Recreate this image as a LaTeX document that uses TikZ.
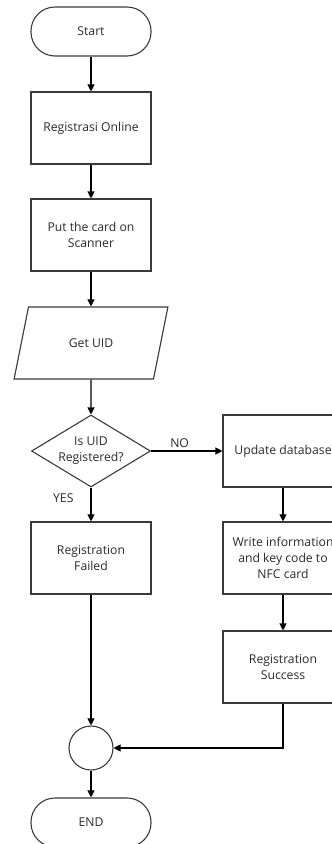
\documentclass[tikz,border=0pt]{standalone}
\usepackage{fontspec}
\setmainfont{Open Sans}
\usetikzlibrary{arrows.meta,shapes.geometric,positioning}
\definecolor{txt}{HTML}{2A2A2A}
\definecolor{ln}{HTML}{3A3A3A}
\begin{document}
\begin{tikzpicture}[x=1pt,y=-1pt,
  font=\fontsize{12.2}{15.8}\selectfont,
  base/.style={draw=ln, line width=1.1pt, text=txt, align=center, inner sep=1pt},
  procbox/.style={base, rectangle, minimum width=120pt, minimum height=72pt},
  termbox/.style={base, rectangle, rounded corners=24pt, minimum width=120pt, minimum height=49pt},
  iobox/.style={base, trapezium, trapezium left angle=64, trapezium right angle=116, trapezium stretches=true, minimum width=154pt, minimum height=72pt},
  decbox/.style={base, diamond, minimum width=119pt, minimum height=72pt, inner sep=0pt},
  joinbox/.style={base, circle, minimum size=44pt, inner sep=0pt},
  conn/.style={draw=black, line width=1.1pt, -{Triangle[length=7pt,width=7pt]}},
  lbl/.style={text=txt, inner sep=1pt, align=center}]
\useasboundingbox (0,0) rectangle (332,844);
\clip (0,0) rectangle (332,844);
\node[termbox] (start) at (91,31.5) {Start};
\node[procbox] (reg) at (91,128) {Registrasi Online};
\node[procbox] (put) at (91,235) {Put the card on\\Scanner};
\node[iobox] (uid) at (91,343) {Get UID};
\node[decbox] (dec) at (91,451) {};
\node[lbl] (dectext) at (dec.center) {Is UID\\Registered?};
\node[procbox] (upd) at (283,451) {Update database};
\node[procbox] (fail) at (91,558) {Registration\\Failed};
\node[procbox] (write) at (283,558) {Write information\\and key code to\\NFC card};
\node[procbox] (succ) at (283,667) {Registration\\Success};
\node[joinbox] (join) at (91,748) {};
\node[termbox] (end) at (91,822.5) {END};
\draw[conn] (start) -- (reg);
\draw[conn] (reg) -- (put);
\draw[conn] (put) -- (uid);
\draw[conn] (uid) -- (dec);
\draw[conn] (dec) -- node[lbl, above, pos=0.4, yshift=2pt] {NO} (upd);
\draw[conn] (dec) -- node[lbl, left, pos=0.3, xshift=-16pt] {YES} (fail);
\draw[conn] (upd) -- (write);
\draw[conn] (write) -- (succ);
\draw[conn] (fail) -- (join);
\draw[conn] (succ) |- (join);
\draw[conn] (join) -- (end);
\end{tikzpicture}
\end{document}
